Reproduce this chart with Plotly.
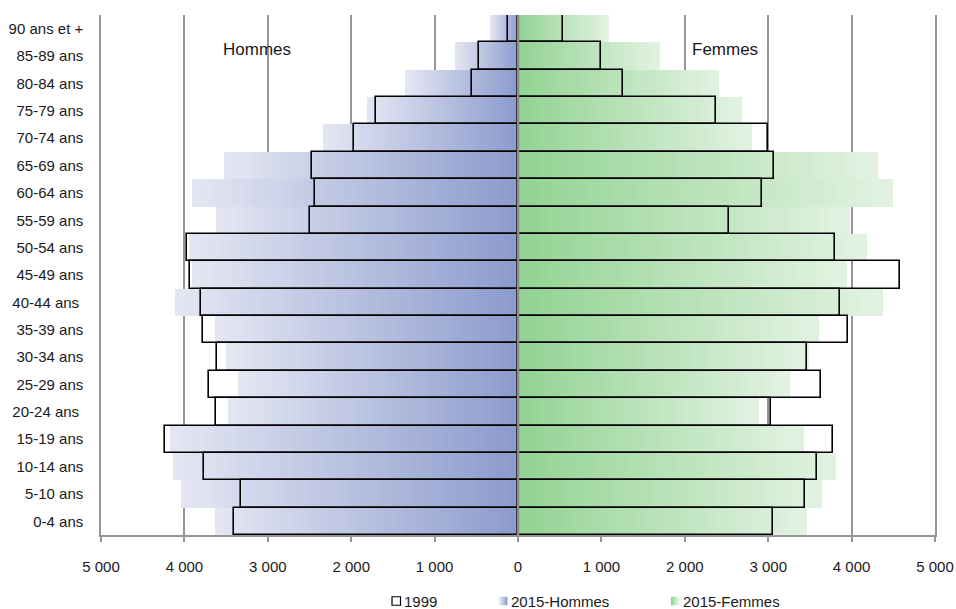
import plotly.graph_objects as go

# Age groups, listed from the bottom of the pyramid to the top
age_groups = [
    "0-4 ans", "5-10 ans", "10-14 ans", "15-19 ans", "20-24 ans\u00a0",
    "25-29 ans", "30-34 ans", "35-39 ans", "40-44 ans\u00a0", "45-49 ans",
    "50-54 ans", "55-59 ans", "60-64 ans", "65-69 ans", "70-74 ans",
    "75-79 ans", "80-84 ans", "85-89 ans", "90 ans et +",
]

men_1999 = [3408, 3320, 3768, 4228, 3620, 3708, 3604, 3780, 3800, 3928,
            3968, 2500, 2436, 2468, 1972, 1700, 556, 468, 120]
men_2015 = [3636, 4044, 4140, 4168, 3480, 3360, 3500, 3636, 4108, 3910,
            3950, 3624, 3912, 3528, 2340, 1808, 1356, 756, 328]
women_1999 = [3052, 3444, 3580, 3780, 3036, 3628, 3468, 3952, 3864, 4580,
              3800, 2528, 2924, 3068, 2996, 2380, 1260, 996, 536]
women_2015 = [3464, 3644, 3812, 3432, 2892, 3260, 3490, 3608, 4380, 3944,
              4184, 3980, 4500, 4320, 2808, 2688, 2412, 1704, 1088]

tick_values = [-5000, -4000, -3000, -2000, -1000, 0, 1000, 2000, 3000, 4000, 5000]
tick_labels = ["5 000", "4 000", "3 000", "2 000", "1 000", "0",
               "1 000", "2 000", "3 000", "4 000", "5 000"]

FONT = "Liberation Sans Narrow, Arial Narrow, Liberation Sans, Arial, sans-serif"
TEXT = "#1a1a1a"
GRID = "#969696"

MEN_DARK, MEN_LIGHT = (141, 156, 206), (227, 230, 242)
WOMEN_DARK, WOMEN_LIGHT = (148, 211, 148), (225, 242, 225)


def mix(c1, c2, t):
    return "rgb(%d,%d,%d)" % tuple(round(a + (b - a) * t) for a, b in zip(c1, c2))


fig = go.Figure()

# 2015 bars: each bar is split into slices so the colour fades from the
# centre axis outwards
N_SLICES = 32
for k in range(N_SLICES):
    t = k / (N_SLICES - 1)
    fig.add_trace(go.Bar(
        y=age_groups, orientation="h",
        x=[-v / N_SLICES for v in men_2015],
        base=[-v * k / N_SLICES for v in men_2015],
        marker=dict(color=mix(MEN_DARK, MEN_LIGHT, t), line=dict(width=0)),
        showlegend=False, hoverinfo="skip",
    ))
    fig.add_trace(go.Bar(
        y=age_groups, orientation="h",
        x=[v / N_SLICES for v in women_2015],
        base=[v * k / N_SLICES for v in women_2015],
        marker=dict(color=mix(WOMEN_DARK, WOMEN_LIGHT, t), line=dict(width=0)),
        showlegend=False, hoverinfo="skip",
    ))

# 1999 outlines on top
outline = dict(color="rgba(0,0,0,0)", line=dict(color="#000000", width=1.6))
fig.add_trace(go.Bar(y=age_groups, x=[-v for v in men_1999], orientation="h",
                     marker=outline, name="1999", showlegend=False))
fig.add_trace(go.Bar(y=age_groups, x=women_1999, orientation="h",
                     marker=outline, name="1999", showlegend=False))

# plot box in pixels (used to place the legend row below the axis)
L, R, T, B = 101, 935, 15, 535
W, H = 956, 609


def px_x(p):
    return (p - L) / (R - L)


def px_y(p):
    return (B - p) / (B - T)


shapes = [
    # white panels behind the side titles
    dict(type="rect", xref="x", yref="paper", x0=-3900, x1=-1300,
         y0=px_y(60), y1=1, fillcolor="white", line=dict(width=0), layer="between"),
    dict(type="rect", xref="x", yref="paper", x0=1300, x1=3800,
         y0=px_y(60), y1=1, fillcolor="white", line=dict(width=0), layer="between"),
    # centre axis
    dict(type="line", xref="x", yref="paper", x0=0, x1=0, y0=0, y1=1,
         line=dict(color="#8c8c8c", width=2.6), layer="above"),
]

annotations = [
    dict(text="Hommes", x=-3132, y=px_y(38), xref="x", yref="paper",
         showarrow=False, font=dict(family=FONT, size=17, color=TEXT)),
    dict(text="Femmes", x=2480, y=px_y(38), xref="x", yref="paper",
         showarrow=False, font=dict(family=FONT, size=17, color=TEXT)),
]

# legend row
legend_items = [
    ("1999", 392, None),
    ("2015-Hommes", 499, (MEN_LIGHT, MEN_DARK)),
    ("2015-Femmes", 671, (WOMEN_DARK, WOMEN_LIGHT)),
]
ly = 601
box = 8.5
for label, x0, grad in legend_items:
    if grad is None:
        shapes.append(dict(type="rect", xref="paper", yref="paper",
                           x0=px_x(x0), x1=px_x(x0 + box),
                           y0=px_y(ly + box / 2), y1=px_y(ly - box / 2),
                           fillcolor="white", line=dict(color="#000000", width=1.2)))
    else:
        n = 4
        for i in range(n):
            shapes.append(dict(type="rect", xref="paper", yref="paper",
                               x0=px_x(x0 + box * i / n), x1=px_x(x0 + box * (i + 1) / n),
                               y0=px_y(ly + box / 2), y1=px_y(ly - box / 2),
                               fillcolor=mix(grad[0], grad[1], i / (n - 1)),
                               line=dict(width=0)))
    annotations.append(dict(text=label, x=px_x(x0 + box + 1), y=px_y(ly),
                            xref="paper", yref="paper", xanchor="left", yanchor="middle",
                            showarrow=False, font=dict(family=FONT, size=15, color=TEXT)))

fig.update_layout(
    width=W, height=H,
    margin=dict(l=L, r=W - R, t=T, b=H - B),
    paper_bgcolor="white", plot_bgcolor="white",
    barmode="overlay", bargap=0,
    showlegend=False,
    font=dict(family=FONT, size=15, color=TEXT),
    shapes=shapes, annotations=annotations,
    xaxis=dict(
        range=[-5000, 5000], tickvals=tick_values, ticktext=tick_labels,
        showgrid=True, gridcolor=GRID, gridwidth=1.5, zeroline=False,
        showline=True, linecolor=GRID, linewidth=1.6,
        ticks="outside", ticklen=5, tickwidth=1.5, tickcolor=GRID,
        ticklabelstandoff=12, tickfont=dict(family=FONT, size=15, color=TEXT),
        automargin=False, fixedrange=True,
    ),
    yaxis=dict(
        type="category", categoryorder="array", categoryarray=age_groups,
        range=[-0.5, len(age_groups) - 0.5],
        showgrid=False, zeroline=False, showline=True, mirror=True,
        linecolor=GRID, linewidth=1.5,
        ticks="outside", ticklen=13, tickcolor="rgba(0,0,0,0)",
        tickfont=dict(family=FONT, size=15, color=TEXT),
        automargin=False, fixedrange=True,
    ),
)

fig.write_html("out.html")
